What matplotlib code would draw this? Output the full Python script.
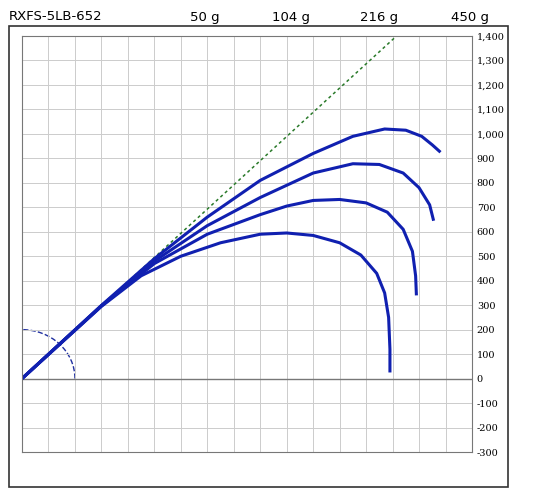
import matplotlib
matplotlib.use("Agg")
import matplotlib.pyplot as plt
import numpy as np
from matplotlib.patches import Rectangle, Arc

title = "RXFS-5LB-652"
weight_labels = ["50 g", "104 g", "216 g", "450 g"]
yticks = list(range(-300, 1401, 100))

c1x = [0, 300, 450, 600, 750, 900, 1000, 1100, 1200, 1280, 1340, 1370, 1385, 1390, 1390]
c1y = [0, 295, 420, 500, 555, 590, 595, 585, 555, 505, 430, 350, 250, 120, 25]
c2x = [0, 300, 500, 700, 900, 1000, 1100, 1200, 1300, 1380, 1440, 1475, 1487, 1490]
c2y = [0, 297, 470, 590, 670, 705, 728, 732, 718, 680, 610, 520, 420, 340]
c3x = [0, 300, 500, 700, 900, 1100, 1250, 1350, 1440, 1500, 1540, 1555]
c3y = [0, 298, 480, 625, 740, 840, 878, 875, 840, 780, 710, 645]
c4x = [0, 300, 500, 700, 900, 1100, 1250, 1370, 1450, 1510, 1550, 1581]
c4y = [0, 299, 490, 660, 810, 920, 990, 1020, 1015, 990, 955, 925]
ref_x = [0, 1415]
ref_y = [0, 1400]

W, H = 533, 501
fig = plt.figure(figsize=(W/100, H/100), dpi=100)
fig.patches.append(Rectangle((9/W, 1-487/H), 499/W, 461/H, transform=fig.transFigure,
                             fill=False, edgecolor="#333333", lw=1.2))
ax = fig.add_axes([22/W, 1-452/H, 450/W, 416/H])
ax.set_xlim(0, 1700)
ax.set_ylim(-300, 1400)
ax.set_xticks(range(0, 1701, 100))
ax.set_yticks(yticks)
ax.grid(True, color="#cccccc", lw=0.7)
ax.tick_params(length=0, labelbottom=False, labelleft=False, labelright=True)
ax.set_yticklabels([f"{v:,}" for v in yticks], fontsize=7, family="DejaVu Serif")
for s in ax.spines.values():
    s.set_color("#777777")
ax.axhline(0, color="#777777", lw=1)

ax.plot(ref_x, ref_y, color="#2a7a2a", ls=(0, (2, 2)), lw=1.1)
for xs, ys in [(c1x, c1y), (c2x, c2y), (c3x, c3y), (c4x, c4y)]:
    ax.plot(xs, ys, color="#1020b0", lw=2.2, solid_capstyle="butt", solid_joinstyle="round")
ax.add_patch(Arc((0, 0), 400, 400, theta1=0, theta2=90, color="#2030a0", ls="--", lw=1))

fig.text(9/W, 1-17/H, title, fontsize=9.5, va="center", ha="left")
for lab, px in zip(weight_labels, [205, 291, 379, 470]):
    fig.text(px/W, 1-17/H, lab, fontsize=9.5, va="center", ha="center")
fig.savefig("out.png", dpi=100)
